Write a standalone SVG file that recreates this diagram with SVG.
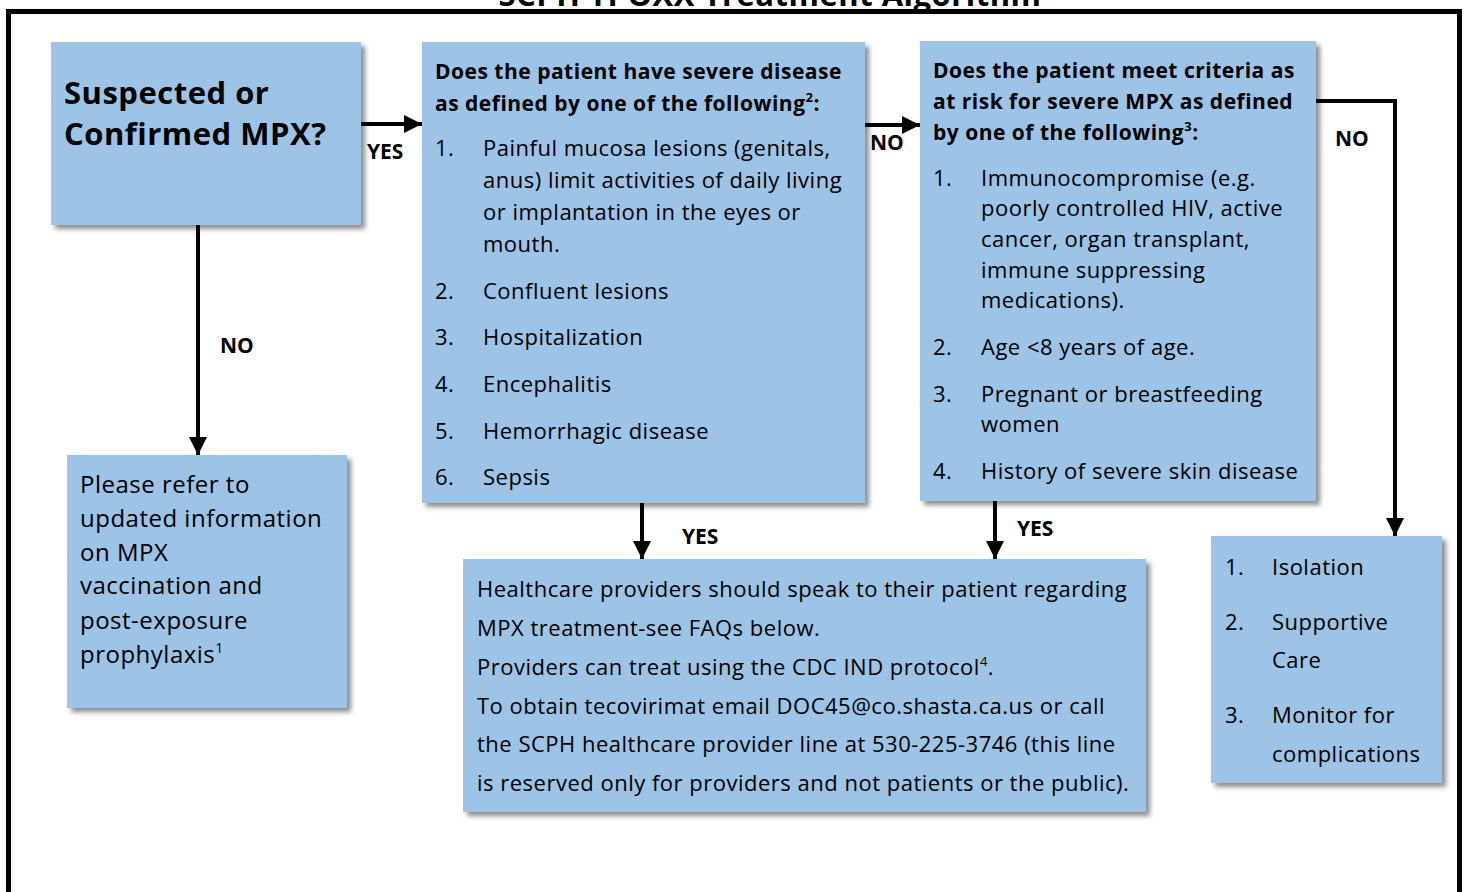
<svg xmlns="http://www.w3.org/2000/svg" width="1465" height="892" viewBox="0 0 1465 892">
<style>
.box{fill:#9DC3E6;filter:url(#sh);}
.t{font-family:"Open Sans","Noto Sans","Liberation Sans",sans-serif;fill:#000;letter-spacing:0.5px;}
.b{font-weight:bold;}
.lbl{font-family:"Open Sans","Noto Sans","Liberation Sans",sans-serif;font-weight:bold;font-size:21px;}
.ln{stroke:#000;stroke-width:4;fill:none;}
</style>
<defs>
<filter id="sh" x="-10%" y="-10%" width="130%" height="130%">
<feDropShadow dx="4" dy="4" stdDeviation="2.5" flood-color="#000" flood-opacity="0.45"/>
</filter>
<marker id="ah" viewBox="0 0 10 10" refX="10" refY="5" markerWidth="4.5" markerHeight="4.5" markerUnits="strokeWidth" orient="auto">
<path d="M0,0 L10,5 L0,10 z" fill="#000"/>
</marker>
</defs>
<rect width="1465" height="892" fill="#fff"/>
<text class="t b" x="770" y="6" font-size="31" text-anchor="middle" letter-spacing="0">SCPH TPOXX Treatment Algorithm</text>
<rect x="8.5" y="11.5" width="1451" height="900" fill="none" stroke="#000" stroke-width="5"/>

<g id="connectors">
<line class="ln" x1="361" y1="124" x2="422" y2="124" marker-end="url(#ah)"/>
<line class="ln" x1="865" y1="125" x2="920" y2="125" marker-end="url(#ah)"/>
<polyline class="ln" points="1316,101 1395,101 1395,536" marker-end="url(#ah)"/>
<line class="ln" x1="198" y1="225" x2="198" y2="455" marker-end="url(#ah)"/>
<line class="ln" x1="642" y1="503" x2="642" y2="559" marker-end="url(#ah)"/>
<line class="ln" x1="995" y1="501" x2="995" y2="559" marker-end="url(#ah)"/>
<text class="lbl" x="367" y="159">YES</text>
<text class="lbl" x="870" y="150">NO</text>
<text class="lbl" x="1335" y="146">NO</text>
<text class="lbl" x="220" y="353">NO</text>
<text class="lbl" x="682" y="544">YES</text>
<text class="lbl" x="1017" y="536">YES</text>
</g>

<g id="n1">
<rect class="box" x="51" y="42" width="310" height="183"/>
<text class="t b" font-size="31"><tspan x="64" y="104">Suspected or</tspan><tspan x="64" y="145">Confirmed MPX?</tspan></text>
</g>

<g id="n2">
<rect class="box" x="422" y="42" width="443" height="461"/>
<text class="t b" font-size="21" letter-spacing="0.55"><tspan x="435" y="79">Does the patient have severe disease</tspan><tspan x="435" y="111">as defined by one of the following<tspan font-size="13" dy="-9">2</tspan><tspan dy="9">:</tspan></tspan></text>
<text class="t" font-size="22">
<tspan x="435" y="156">1.</tspan><tspan x="483" y="156">Painful mucosa lesions (genitals,</tspan>
<tspan x="483" y="188">anus) limit activities of daily living</tspan>
<tspan x="483" y="220">or implantation in the eyes or</tspan>
<tspan x="483" y="252">mouth.</tspan>
<tspan x="435" y="299">2.</tspan><tspan x="483" y="299">Confluent lesions</tspan>
<tspan x="435" y="345">3.</tspan><tspan x="483" y="345">Hospitalization</tspan>
<tspan x="435" y="392">4.</tspan><tspan x="483" y="392">Encephalitis</tspan>
<tspan x="435" y="439">5.</tspan><tspan x="483" y="439">Hemorrhagic disease</tspan>
<tspan x="435" y="485">6.</tspan><tspan x="483" y="485">Sepsis</tspan>
</text>
</g>

<g id="n3">
<rect class="box" x="920" y="41" width="396" height="460"/>
<text class="t b" font-size="21" letter-spacing="0.55"><tspan x="933" y="78">Does the patient meet criteria as</tspan><tspan x="933" y="109">at risk for severe MPX as defined</tspan><tspan x="933" y="140">by one of the following<tspan font-size="13" dy="-9">3</tspan><tspan dy="9">:</tspan></tspan></text>
<text class="t" font-size="22">
<tspan x="933" y="186">1.</tspan><tspan x="981" y="186">Immunocompromise (e.g.</tspan>
<tspan x="981" y="216">poorly controlled HIV, active</tspan>
<tspan x="981" y="247">cancer, organ transplant,</tspan>
<tspan x="981" y="278">immune suppressing</tspan>
<tspan x="981" y="308">medications).</tspan>
<tspan x="933" y="355">2.</tspan><tspan x="981" y="355">Age &lt;8 years of age.</tspan>
<tspan x="933" y="402">3.</tspan><tspan x="981" y="402">Pregnant or breastfeeding</tspan>
<tspan x="981" y="432">women</tspan>
<tspan x="933" y="479">4.</tspan><tspan x="981" y="479">History of severe skin disease</tspan>
</text>
</g>

<g id="n4">
<rect class="box" x="67" y="455" width="280" height="253"/>
<text class="t" font-size="24" letter-spacing="0.8">
<tspan x="80" y="493">Please refer to</tspan>
<tspan x="80" y="527">updated information</tspan>
<tspan x="80" y="561">on MPX</tspan>
<tspan x="80" y="594">vaccination and</tspan>
<tspan x="80" y="629">post-exposure</tspan>
<tspan x="80" y="663">prophylaxis<tspan font-size="14" dy="-10">1</tspan></tspan>
</text>
</g>

<g id="n5">
<rect class="box" x="463" y="559" width="683" height="253"/>
<text class="t" font-size="22">
<tspan x="477" y="597">Healthcare providers should speak to their patient regarding</tspan>
<tspan x="477" y="636">MPX treatment-see FAQs below.</tspan>
<tspan x="477" y="675">Providers can treat using the CDC IND protocol<tspan font-size="13" dy="-9">4</tspan><tspan dy="9">.</tspan></tspan>
<tspan x="477" y="714">To obtain tecovirimat email DOC45@co.shasta.ca.us or call</tspan>
<tspan x="477" y="752">the SCPH healthcare provider line at 530-225-3746 (this line</tspan>
<tspan x="477" y="791">is reserved only for providers and not patients or the public).</tspan>
</text>
</g>

<g id="n6">
<rect class="box" x="1211" y="536" width="231" height="247"/>
<text class="t" font-size="22">
<tspan x="1225" y="575">1.</tspan><tspan x="1272" y="575">Isolation</tspan>
<tspan x="1225" y="630">2.</tspan><tspan x="1272" y="630">Supportive</tspan>
<tspan x="1272" y="668">Care</tspan>
<tspan x="1225" y="723">3.</tspan><tspan x="1272" y="723">Monitor for</tspan>
<tspan x="1272" y="762">complications</tspan>
</text>
</g>
</svg>
